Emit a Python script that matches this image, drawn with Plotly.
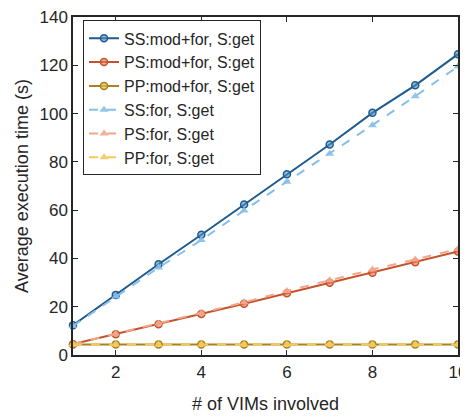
import plotly.graph_objects as go

x_vims = [1, 2, 3, 4, 5, 6, 7, 8, 9, 10]

ss_modfor = [12.3, 24.9, 37.6, 49.8, 62.3, 74.9, 87.2, 100.3, 111.7, 124.6]
ps_modfor = [4.5, 8.6, 12.7, 17.0, 21.2, 25.6, 29.9, 34.1, 38.4, 42.9]
pp_modfor = [4.4, 4.4, 4.4, 4.4, 4.4, 4.4, 4.4, 4.4, 4.4, 4.4]
ss_for = [12.0, 24.2, 36.2, 47.6, 59.9, 71.8, 83.4, 95.2, 107.2, 119.5]
ps_for = [4.5, 8.8, 13.0, 17.4, 21.8, 26.5, 31.0, 35.4, 39.6, 43.9]
pp_for = [4.3, 4.3, 4.3, 4.3, 4.3, 4.3, 4.3, 4.3, 4.3, 4.3]

names = ["SS:mod+for, S:get", "PS:mod+for, S:get", "PP:mod+for, S:get",
         "SS:for, S:get", "PS:for, S:get", "PP:for, S:get"]

y_ticks = [0, 20, 40, 60, 80, 100, 120, 140]
x_ticks = [2, 4, 6, 8, 10]

fig = go.Figure()

solid_cols = ["#1f5b8e", "#c4532b", "#a8821f"]
solid_fill = ["rgba(80,140,190,0.6)", "rgba(230,120,80,0.6)", "rgba(230,190,70,0.7)"]
dash_cols = ["#86c0ea", "#f3a68c", "#f3c95c"]

for name, ys, col, fill in zip(names[:3], [ss_modfor, ps_modfor, pp_modfor], solid_cols, solid_fill):
    fig.add_trace(go.Scatter(
        x=x_vims, y=ys, name=name, mode="lines+markers",
        line=dict(color=col, width=2),
        marker=dict(symbol="circle", size=7, color=fill, line=dict(color=col, width=1.5)),
        cliponaxis=False,
    ))

for name, ys, col in zip(names[3:], [ss_for, ps_for, pp_for], dash_cols):
    fig.add_trace(go.Scatter(
        x=x_vims, y=ys, name=name, mode="lines+markers",
        line=dict(color=col, width=2, dash="dash"),
        marker=dict(symbol="triangle-up", size=8, color=col, opacity=0.9),
        cliponaxis=False,
    ))

axis_common = dict(
    showline=True, linecolor="#262626", linewidth=1.5, mirror="allticks",
    ticks="inside", ticklen=5, tickwidth=1.2, tickcolor="#262626",
    showgrid=False, zeroline=False, automargin=False,
    ticklabeloverflow="allow",
    tickfont=dict(family="Liberation Sans, Arial, sans-serif", size=17, color="#262626"),
)

fig.update_layout(
    width=460, height=412,
    margin=dict(l=65, r=10, t=9, b=65),
    paper_bgcolor="white", plot_bgcolor="white",
    font=dict(family="Liberation Sans, Arial, sans-serif", color="#262626"),
    xaxis=dict(range=[1, 10], tickvals=x_ticks, ticklabelstandoff=1,
               title=dict(text="# of VIMs involved", font=dict(size=18), standoff=16),
               **axis_common),
    yaxis=dict(range=[0, 140], tickvals=y_ticks,
               title=dict(text="Average execution time (s)", font=dict(size=18), standoff=6),
               **axis_common),
    legend=dict(x=0.026, y=0.99, xanchor="left", yanchor="top",
                bgcolor="white", bordercolor="#262626", borderwidth=1,
                font=dict(size=16, color="#262626"),
                tracegroupgap=0, itemwidth=30),
    showlegend=True,
)

fig.write_html("out.html")
